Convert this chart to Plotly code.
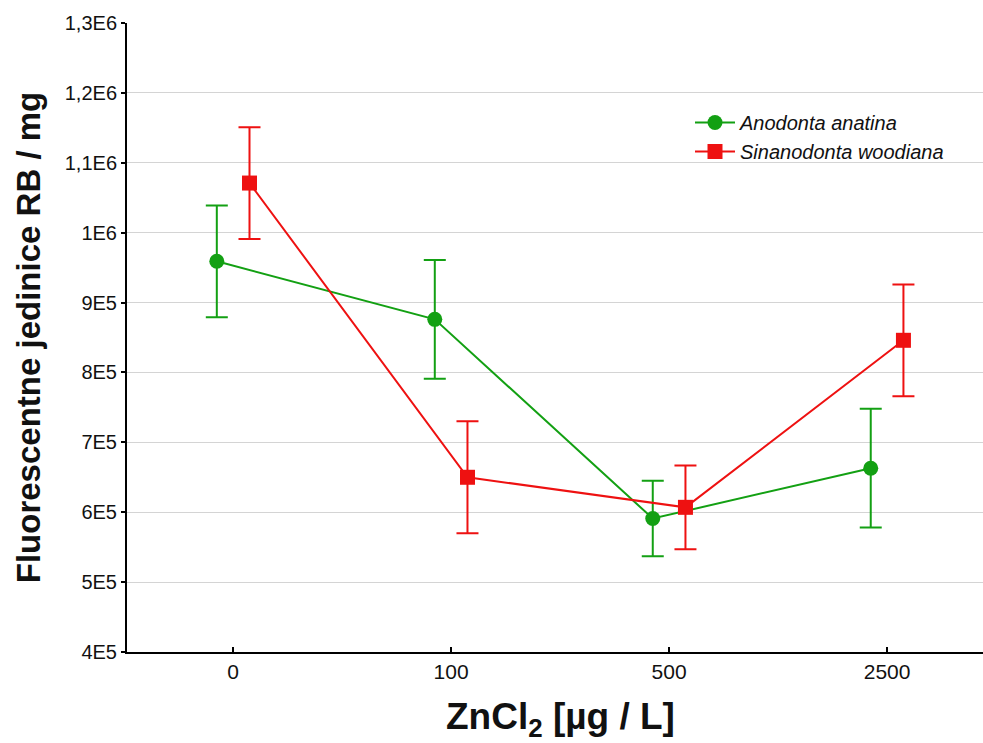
import plotly.graph_objects as go

categories = ["0", "100", "500", "2500"]
anodonta_mean = [959000, 876000, 591000, 663000]
anodonta_err = [80000, 85000, 54000, 85000]
sinanodonta_mean = [1071000, 650000, 607000, 846000]
sinanodonta_err = [80000, 80000, 60000, 80000]
y_tickvals = [400000, 500000, 600000, 700000, 800000, 900000, 1000000, 1100000, 1200000, 1300000]
y_ticktext = ["4E5", "5E5", "6E5", "7E5", "8E5", "9E5", "1E6", "1,1E6", "1,2E6", "1,3E6"]

GREEN = "#13a013"
RED = "#ee1111"
off = 0.075
idx = list(range(len(categories)))

W, H = 983, 743
L, T, PW, PH = 127, 23, 856, 629

fig = go.Figure()
fig.add_trace(go.Scatter(
    x=[i - off for i in idx], y=anodonta_mean, name="<i>Anodonta anatina</i>",
    mode="lines+markers",
    line=dict(color=GREEN, width=2),
    marker=dict(symbol="circle", size=15, color=GREEN),
    error_y=dict(type="data", array=anodonta_err, visible=True, color=GREEN, thickness=2, width=11),
))
fig.add_trace(go.Scatter(
    x=[i + off for i in idx], y=sinanodonta_mean, name="<i>Sinanodonta woodiana</i>",
    mode="lines+markers",
    line=dict(color=RED, width=2),
    marker=dict(symbol="square", size=15, color=RED),
    error_y=dict(type="data", array=sinanodonta_err, visible=True, color=RED, thickness=2, width=11),
))

# grid-only overlay axis (no grid line at the top edge)
fig.add_trace(go.Scatter(x=[0], y=[None], yaxis="y2", showlegend=False, hoverinfo="skip"))


def px_x(page_x):
    return (page_x - L) / PW


def px_y(page_y):
    return (T + PH - page_y) / PH


fig.update_layout(
    width=W, height=H,
    margin=dict(l=L, r=W - L - PW, t=T, b=H - T - PH, autoexpand=False),
    paper_bgcolor="white", plot_bgcolor="white",
    font=dict(family="Liberation Sans, Arial, sans-serif", color="#111111"),
    xaxis=dict(
        range=[-0.487, 3.44], tickvals=idx, ticktext=categories,
        showline=True, linecolor="black", linewidth=2,
        ticks="inside", ticklen=5, tickwidth=1.5, tickcolor="black",
        tickfont=dict(size=21), showgrid=False, zeroline=False,
    ),
    yaxis=dict(
        range=[400000, 1300000], tickvals=y_tickvals, ticktext=y_ticktext,
        showline=True, linecolor="black", linewidth=2,
        ticks="outside", ticklen=4, tickwidth=1.5, tickcolor="black",
        tickfont=dict(size=20), showgrid=False, zeroline=False,
        title=dict(text="<b>Fluorescentne jedinice RB / mg</b>", font=dict(size=33), standoff=14),
    ),
    yaxis2=dict(
        range=[400000, 1300000], overlaying="y", side="left",
        tickvals=y_tickvals[1:-1], showticklabels=False,
        showgrid=True, gridcolor="#d4d4d4", gridwidth=1, zeroline=False, showline=False,
    ),
    legend=dict(
        x=px_x(690), y=px_y(103), xanchor="left", yanchor="top",
        font=dict(size=20, family="Liberation Sans, Arial, sans-serif"),
        bgcolor="rgba(0,0,0,0)", tracegroupgap=0, itemwidth=40,
    ),
)
fig.add_annotation(
    text="<b>ZnCl<sub>2</sub> [µg / L]</b>",
    xref="paper", yref="paper", x=px_x(560), y=px_y(719),
    showarrow=False, font=dict(size=37, family="Liberation Sans, Arial, sans-serif", color="#111111"),
    xanchor="center", yanchor="middle",
)

fig.write_html(
    "out.html",
    config={"displayModeBar": False},
    post_script="document.body.style.margin='0';document.body.style.overflow='hidden';",
)
